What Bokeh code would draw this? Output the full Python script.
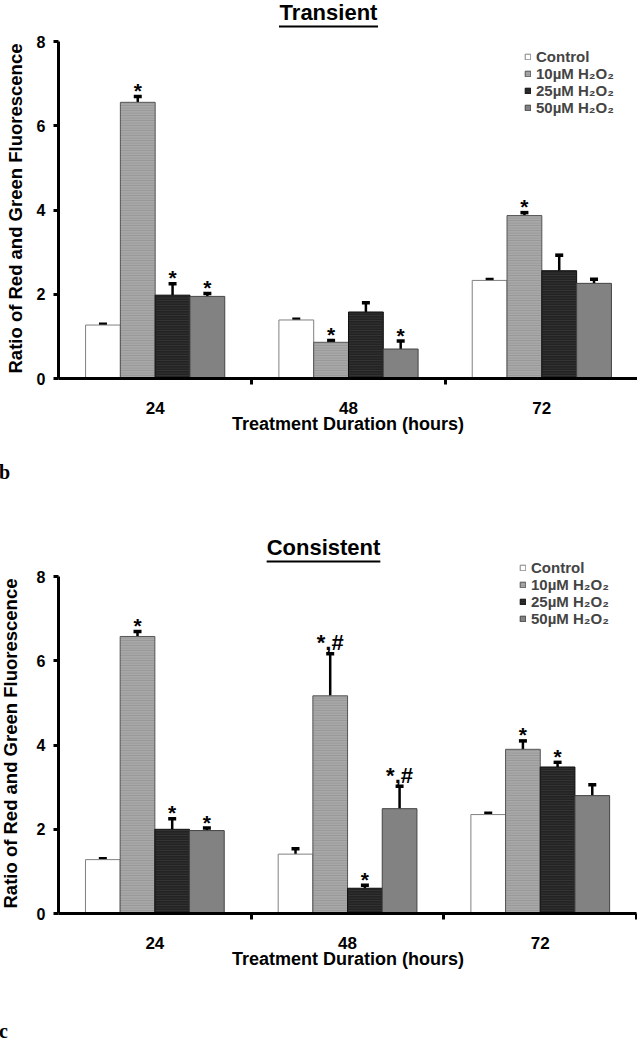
import numpy as np
from bokeh.plotting import figure
from bokeh.models import (ColumnDataSource, FixedTicker, Whisker, TeeHead, Legend,
                          LegendItem, Div, Range1d, Label, Title, BoxAnnotation)
from bokeh.layouts import column
from bokeh.embed import file_html
from bokeh.resources import INLINE
from bokeh.core.properties import value

# ---------------- data ----------------
categories = ["24", "48", "72"]
series_names = ["Control", "10µM H₂O₂", "25µM H₂O₂", "50µM H₂O₂"]

# Transient
tr_control = [1.27, 1.39, 2.33]
tr_control_err = [0.02, 0.02, 0.02]
tr_h10 = [6.56, 0.86, 3.87]
tr_h10_err = [0.14, 0.04, 0.07]
tr_h25 = [1.98, 1.58, 2.56]
tr_h25_err = [0.27, 0.22, 0.37]
tr_h50 = [1.95, 0.70, 2.26]
tr_h50_err = [0.07, 0.19, 0.10]
tr_sig_control = ["", "", ""]
tr_sig_h10 = ["*", "*", "*"]
tr_sig_h25 = ["*", "", ""]
tr_sig_h50 = ["*", "*", ""]

# Consistent
co_control = [1.28, 1.41, 2.35]
co_control_err = [0.02, 0.13, 0.03]
co_h10 = [6.58, 5.17, 3.90]
co_h10_err = [0.12, 1.00, 0.20]
co_h25 = [2.00, 0.60, 3.48]
co_h25_err = [0.25, 0.07, 0.11]
co_h50 = [1.97, 2.49, 2.80]
co_h50_err = [0.06, 0.53, 0.26]
co_sig_control = ["", "", ""]
co_sig_h10 = ["*", "*,#", "*"]
co_sig_h25 = ["*", "*", "*"]
co_sig_h50 = ["*", "*,#", ""]

y_ticks = [0, 2, 4, 6, 8]
y_label = "Ratio of Red and Green Fluorescence"
x_label = "Treatment Duration (hours)"

# ---------------- styles ----------------
FONT = "Liberation Sans"
fills = ["#ffffff", "#a8a8a8", "#232323", "#828282"]
outlines = ["#808080", "#555555", "#111111", "#444444"]
hatches = [None, "horizontal_line", "horizontal_line", None]
hatch_colors = ["#ffffff", "#8e8e8e", "#3c3c3c", "#828282"]

PX_PER_UNIT = 42.1
FIG_W = 641
BOTTOM_H = 68
BAR_W = 0.18
TITLE_PX = 22
TITLE_X_PAGE = 327
TITLE_BASE_ABOVE_AXIS = 366
# Arial/Liberation Sans Bold advance widths (em/1000) for underline length
BOLD_W = {"C": 722, "T": 611, "o": 611, "n": 611, "s": 556, "i": 278,
          "t": 333, "e": 556, "r": 389, "a": 556}


def build_chart(title, vals, errs, sigs, frame_left, cat_px, frame_h, legend_xy):
    p = figure(width=FIG_W, height=frame_h + BOTTOM_H,
               x_range=Range1d(0, (FIG_W - frame_left) / cat_px),
               y_range=Range1d(0, frame_h / PX_PER_UNIT),
               output_backend="svg", toolbar_location=None,
               min_border_left=frame_left, min_border_right=0,
               min_border_top=0, min_border_bottom=BOTTOM_H)
    p.outline_line_color = None
    p.xgrid.grid_line_color = None
    p.ygrid.grid_line_color = None
    p.background_fill_color = "white"
    p.border_fill_color = "white"

    n = len(categories)
    centers = [c + 0.5 for c in range(n)]
    items = []
    star_x, star_y, star_t = [], [], []
    hash_x, hash_y, hash_t = [], [], []
    for i, name in enumerate(series_names):
        xs = [c + (i - 1.5) * BAR_W for c in centers]
        upper = [v + e for v, e in zip(vals[i], errs[i])]
        src = ColumnDataSource(dict(x=xs, top=vals[i], upper=upper))
        kw = {}
        if hatches[i]:
            kw = dict(hatch_pattern=hatches[i], hatch_color=hatch_colors[i],
                      hatch_scale=2.5, hatch_weight=0.8, hatch_alpha=0.9)
        r = p.vbar(x="x", top="top", bottom=0, width=BAR_W, source=src,
                   fill_color=fills[i], line_color=outlines[i], line_width=1, **kw)
        items.append(LegendItem(label=name, renderers=[r]))
        w = Whisker(source=src, base="x", lower="top", upper="upper",
                    dimension="height", line_color="black", line_width=2.5,
                    upper_head=TeeHead(size=8, line_width=3.5, line_color="black"),
                    lower_head=None)
        p.add_layout(w)
        for x, u, s in zip(xs, upper, sigs[i]):
            if s == "*":
                star_x.append(x); star_y.append(u); star_t.append(s)
            elif s:
                hash_x.append(x); hash_y.append(u); hash_t.append(s)

    p.text(x="x", y="y", text="t",
           source=ColumnDataSource(dict(x=star_x, y=star_y, t=star_t)),
           text_font=value(FONT), text_font_style="bold", text_font_size="21px",
           text_align="center", text_baseline="alphabetic", y_offset=-6,
           text_color="black")
    if hash_x:
        p.text(x="x", y="y", text="t",
               source=ColumnDataSource(dict(x=hash_x, y=hash_y, t=hash_t)),
               text_font=value(FONT), text_font_style="bold", text_font_size="22px",
               text_align="center", text_baseline="alphabetic", y_offset=-11,
               text_color="black")

    legend = Legend(items=items, location=legend_xy, orientation="vertical",
                    glyph_width=7, glyph_height=7, label_standoff=5,
                    label_height=17, spacing=0, padding=0, margin=0,
                    label_text_font=FONT, label_text_font_style="bold",
                    label_text_font_size="15px", border_line_color=None,
                    background_fill_alpha=0)
    p.add_layout(legend)

    # chart title (underlined)
    tx = TITLE_X_PAGE - frame_left
    ty = TITLE_BASE_ABOVE_AXIS
    p.add_layout(Label(x=tx, y=ty, x_units="screen", y_units="screen", text=title,
                       text_align="center", text_baseline="alphabetic",
                       text_font=FONT, text_font_style="bold",
                       text_font_size=f"{TITLE_PX}px", text_color="black"))
    half = sum(BOLD_W.get(ch, 556) for ch in title) / 1000 * TITLE_PX / 2
    p.add_layout(BoxAnnotation(left=tx - half, right=tx + half, top=ty - 13, bottom=ty - 15,
                               left_units="screen", right_units="screen",
                               top_units="screen", bottom_units="screen",
                               fill_color="black", fill_alpha=1, line_color=None))

    xa = p.xaxis[0]
    xa.ticker = FixedTicker(ticks=centers, minor_ticks=[c + 1 for c in range(n)])
    xa.major_label_overrides = {c: lab for c, lab in zip(centers, categories)}
    xa.bounds = (0, n)
    xa.axis_line_width = 3
    xa.axis_line_color = "black"
    xa.major_tick_out = 0
    xa.major_tick_in = 0
    xa.minor_tick_out = 6
    xa.minor_tick_in = 0
    xa.minor_tick_line_width = 3
    xa.minor_tick_line_color = "black"
    xa.major_label_standoff = 17
    xa.major_label_text_font = FONT
    xa.major_label_text_font_style = "bold"
    xa.major_label_text_font_size = "17px"
    xa.major_label_text_color = "black"
    xa.axis_label = x_label
    xa.axis_label_standoff = -3
    xa.axis_label_text_font = FONT
    xa.axis_label_text_font_style = "bold"
    xa.axis_label_text_font_size = "18px"
    xa.axis_label_text_color = "black"

    ya = p.yaxis[0]
    ya.ticker = FixedTicker(ticks=y_ticks, minor_ticks=[])
    ya.bounds = (y_ticks[0], y_ticks[-1])
    ya.axis_line_width = 3
    ya.axis_line_color = "black"
    ya.major_tick_out = 5
    ya.major_tick_in = 0
    ya.major_tick_line_width = 3
    ya.major_tick_line_color = "black"
    ya.minor_tick_out = 0
    ya.minor_tick_in = 0
    ya.major_label_standoff = 8
    ya.major_label_text_font = FONT
    ya.major_label_text_font_style = "bold"
    ya.major_label_text_font_size = "16px"
    ya.major_label_text_color = "black"
    # blank spacer label to push the outer y title toward the page edge
    ya.axis_label = " "
    ya.axis_label_text_font_size = "1px"
    ya.axis_label_standoff = (frame_left - 57) + 4

    p.add_layout(Title(text=y_label, align="left", offset=5, standoff=0,
                       text_font=FONT, text_font_style="bold", text_font_size="18.5px",
                       text_color="black"), "left")
    return p


def letter_div(letter, height, top_pad):
    html = (f'<div style="width:40px;height:{height}px;box-sizing:border-box;'
            f'padding-top:{top_pad}px;padding-left:3px;font-family:\'Liberation Serif\', serif;'
            f'font-weight:bold;font-size:20px;line-height:20px;color:#000;">{letter}</div>')
    return Div(text=html, width=FIG_W, height=height, margin=0)


tr_vals = [tr_control, tr_h10, tr_h25, tr_h50]
tr_errs = [tr_control_err, tr_h10_err, tr_h25_err, tr_h50_err]
tr_sigs = [tr_sig_control, tr_sig_h10, tr_sig_h25, tr_sig_h50]
co_vals = [co_control, co_h10, co_h25, co_h50]
co_errs = [co_control_err, co_h10_err, co_h25_err, co_h50_err]
co_sigs = [co_sig_control, co_sig_h10, co_sig_h25, co_sig_h50]

p1 = build_chart("Transient", tr_vals, tr_errs, tr_sigs, 57, 195.0, 382, (466, 262))
p2 = build_chart("Consistent", co_vals, co_errs, co_sigs, 62, 192.7, 417, (461, 286))

layout = column(
    p1,
    letter_div("b", 50, 16),
    p2,
    letter_div("c", 57, 40),
    spacing=0, margin=(-4, 0, 0, -4),
)

open("out.html", "w").write(file_html(layout, INLINE))
